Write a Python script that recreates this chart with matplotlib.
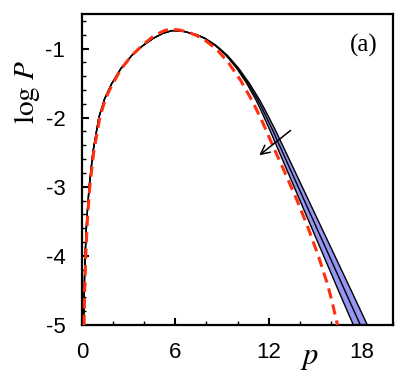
import numpy as np
import matplotlib
matplotlib.use("Agg")
import matplotlib.pyplot as plt

# ─── Data ────────────────────────────────────────────────────────────────────
# rising part shared by the three simulation curves
rise_p    = [0.1, 0.14, 0.2, 0.3, 0.46, 0.7, 1.08, 1.45, 1.88, 2.5, 3.2, 3.9,
             4.6, 5.2, 5.8, 6.2]
rise_logP = [-5.0, -4.5, -4.0, -3.5, -3.0, -2.5, -2.0, -1.73, -1.52, -1.29,
             -1.1, -0.96, -0.85, -0.78, -0.74, -0.745]

# falling part: three curves at common log P levels
fall_logP  = [-0.75, -0.8, -0.85, -0.9, -0.95, -1.0, -1.1, -1.2, -1.3, -1.4,
              -1.5, -1.6, -1.75, -1.9, -2.05, -2.2, -2.5, -2.8, -3.1, -3.4,
              -3.7, -4.0, -4.3, -4.6, -5.0]
fall_inner = [6.51, 7.345, 7.86, 8.195, 8.53, 8.785, 9.265, 9.635, 9.995,
              10.285, 10.585, 10.83, 11.2, 11.52, 11.82, 12.12, 12.69, 13.26,
              13.83, 14.4, 14.97, 15.54, 16.11, 16.68, 17.45]
fall_mid   = [6.52, 7.36, 7.88, 8.22, 8.56, 8.82, 9.31, 9.69, 10.06, 10.36,
              10.67, 10.93, 11.32, 11.66, 11.98, 12.3, 12.9, 13.5, 14.1, 14.7,
              15.3, 15.9, 16.5, 17.1, 17.9]
fall_outer = [6.53, 7.375, 7.9, 8.245, 8.59, 8.855, 9.355, 9.745, 10.125,
              10.435, 10.755, 11.03, 11.44, 11.8, 12.14, 12.48, 13.11, 13.74,
              14.37, 15.0, 15.63, 16.26, 16.89, 17.52, 18.35]

# red dashed reference distribution
ref_p    = [0.13, 0.17, 0.24, 0.34, 0.5, 0.75, 1.14, 1.5, 1.9, 2.5, 3.2, 3.9,
            4.6, 5.2, 5.6, 6.2, 6.8, 7.4, 8.0, 8.7, 9.4, 10.2, 11.0, 11.6,
            12.2, 13.0, 13.8, 14.5, 15.2, 15.8, 16.1, 16.43]
ref_logP = [-5.0, -4.5, -4.0, -3.5, -3.0, -2.5, -2.0, -1.73, -1.54, -1.3,
            -1.1, -0.95, -0.82, -0.75, -0.72, -0.73, -0.76, -0.815, -0.895,
            -1.02, -1.2, -1.46, -1.78, -2.06, -2.37, -2.77, -3.18, -3.57,
            -4.0, -4.42, -4.68, -5.0]

arrow_from = (13.55, -2.16)
arrow_to   = (11.26, -2.57)

x_ticks = [0, 6, 12, 18]
y_ticks = [-1, -2, -3, -4, -5]

# ─── Figure ──────────────────────────────────────────────────────────────────
plt.rcParams["mathtext.fontset"] = "stix"
plt.rcParams["axes.unicode_minus"] = False
plt.rcParams["font.family"] = ["Liberation Sans", "DejaVu Sans"]

fig = plt.figure(figsize=(4.07, 3.80), dpi=100)
ax = fig.add_axes([0.2015, 0.1447, 0.7641, 0.8185])

# blue band between the outer curves
band_x = np.r_[fall_inner, fall_outer[::-1]]
band_y = np.r_[fall_logP, fall_logP[::-1]]
ax.fill(band_x, band_y, color="#9595f2", lw=0, zorder=2)

for fp in (fall_inner, fall_mid, fall_outer):
    ax.plot(np.r_[rise_p, fp], np.r_[rise_logP, fall_logP],
            color="black", lw=1.0, zorder=3)

ax.plot(ref_p, ref_logP, color="#ff3010", lw=2.2, ls=(0, (3.4, 2.0)),
        zorder=4)

ax.annotate("", xy=arrow_to, xytext=arrow_from,
            arrowprops=dict(arrowstyle="->", color="black", lw=1.1,
                            mutation_scale=16), zorder=5)

ax.set_xlim(0, 20)
ax.set_ylim(-5, -0.5)
ax.set_xticks(x_ticks)
ax.set_yticks(y_ticks)
ax.set_xticks(np.arange(0, 20.1, 2), minor=True)
ax.set_yticks(np.arange(-5, -0.45, 0.2), minor=True)
ax.tick_params(which="major", direction="in", length=5, width=1.5,
               labelsize=16, pad=12)
ax.tick_params(which="minor", direction="in", length=3, width=1.0)
for s in ax.spines.values():
    s.set_linewidth(1.6)

ax.set_ylabel(r"$\log\,P$", fontsize=21)
ax.yaxis.set_label_coords(-0.13, 0.75)
ax.text(0.73, -0.103, r"$p$", transform=ax.transAxes, fontsize=22,
        ha="center", va="center")
ax.text(0.905, 0.90, "(a)", transform=ax.transAxes, fontsize=18,
        family="Liberation Serif", ha="center", va="center")

fig.savefig("out.png", dpi=100)
